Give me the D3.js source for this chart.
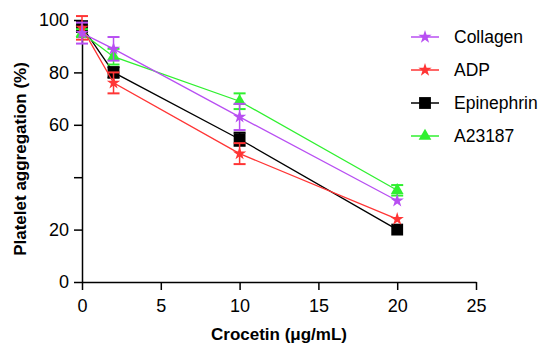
<!DOCTYPE html>
<html><head><meta charset="utf-8">
<script src="https://cdn.jsdelivr.net/npm/d3@7"></script>
<style>body{margin:0;background:#fff}svg{display:block}text{font-family:"Liberation Sans",Arial,sans-serif}</style>
</head><body>
<svg id="c" width="542" height="346"></svg>
<script>
const doses = [0, 2, 10, 20];
const seriesNames = ["Collagen", "ADP", "Epinephrin", "A23187"];
const collagen = [95, 89, 63, 31];
const collagenErr = [4, 4.5, 5, 0];
const adp = [97, 76, 49, 24];
const adpErr = [4.5, 4, 4, 0];
const epinephrin = [97.5, 80, 54.5, 20];
const epinephrinErr = [2, 2, 2.5, 0];
const a23187 = [95, 86, 69, 35];
const a23187Err = [1.5, 3, 3, 2];
const xTicks = [0, 5, 10, 15, 20, 25];
const yTicks = [0, 20, 40, 60, 80, 100];
const yTickLabels = ["0", "20", "", "60", "80", "100"];

const colors = {Collagen:"#b84ff2", ADP:"#ff3535", Epinephrin:"#000000", A23187:"#30f030"};
const symbols = {Collagen:d3.symbolStar, ADP:d3.symbolStar, Epinephrin:d3.symbolSquare, A23187:d3.symbolTriangle};
const sizes = {Collagen:55, ADP:55, Epinephrin:140, A23187:70};
const data = {Collagen:[collagen,collagenErr], ADP:[adp,adpErr], Epinephrin:[epinephrin,epinephrinErr], A23187:[a23187,a23187Err]};

const svg = d3.select("#c");
const x = d3.scaleLinear().domain([0,25]).range([82,476]);
const y = d3.scaleLinear().domain([0,100]).range([282,20]);

const xAxis = svg.append("g").attr("transform","translate(0,282)")
  .call(d3.axisBottom(x).tickValues(xTicks).tickSize(8).tickSizeOuter(0).tickPadding(9));
const yAxis = svg.append("g").attr("transform","translate(82,0)")
  .call(d3.axisLeft(y).tickValues(yTicks).tickFormat((d,i)=>yTickLabels[i]).tickSize(8).tickSizeOuter(0).tickPadding(5));
[xAxis,yAxis].forEach(a=>{
  a.selectAll("path,line").attr("stroke","#000").attr("stroke-width",1.5);
  a.selectAll("text").attr("font-size",18).attr("fill","#000").attr("font-family","Liberation Sans, Arial, sans-serif");
});

svg.append("text").attr("x",279).attr("y",340).attr("text-anchor","middle")
  .attr("font-size",17).attr("font-weight","bold").text("Crocetin (μg/mL)");
svg.append("text").attr("transform","translate(26,159) rotate(-90)").attr("text-anchor","middle")
  .attr("font-size",17).attr("font-weight","bold").text("Platelet aggregation (%)");

const order = ["Epinephrin","A23187","ADP","Collagen"];
const line = d3.line().x((d,i)=>x(doses[i])).y(d=>y(d));
order.forEach(name=>{
  const [vals,errs] = data[name];
  const g = svg.append("g");
  g.append("path").attr("d",line(vals)).attr("fill","none").attr("stroke",colors[name]).attr("stroke-width",1.3);
  vals.forEach((v,i)=>{
    const e = errs[i];
    if(e>0){
      const cx = x(doses[i]);
      g.append("line").attr("x1",cx).attr("x2",cx).attr("y1",y(v+e)).attr("y2",y(v-e)).attr("stroke",colors[name]).attr("stroke-width",1.5);
      [v+e,v-e].forEach(t=>g.append("line").attr("x1",cx-6).attr("x2",cx+6).attr("y1",y(t)).attr("y2",y(t)).attr("stroke",colors[name]).attr("stroke-width",2));
    }
    g.append("path").attr("d",d3.symbol().type(symbols[name]).size(sizes[name])())
      .attr("transform",`translate(${x(doses[i])},${y(v)})`).attr("fill",colors[name]);
  });
});

const leg = svg.append("g");
seriesNames.forEach((name,i)=>{
  const yy = 37 + i*33;
  leg.append("line").attr("x1",411).attr("x2",439).attr("y1",yy).attr("y2",yy).attr("stroke",colors[name]).attr("stroke-width",1.5);
  leg.append("path").attr("d",d3.symbol().type(symbols[name]).size(sizes[name])())
    .attr("transform",`translate(425,${yy})`).attr("fill",colors[name]);
  leg.append("text").attr("x",454).attr("y",yy+6).attr("font-size",17.5).text(name);
});
</script>
</body></html>
